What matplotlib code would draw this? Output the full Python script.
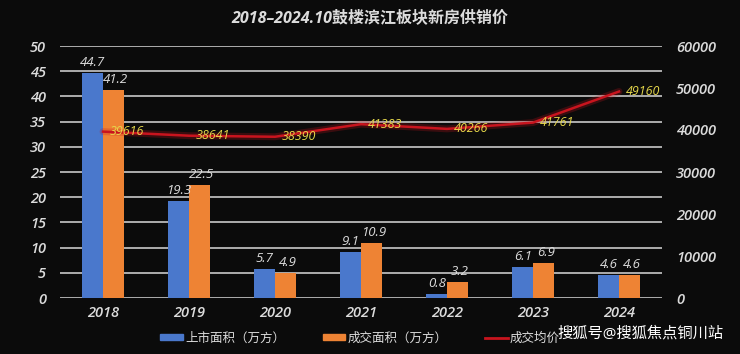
import matplotlib
matplotlib.use("Agg")
import matplotlib.pyplot as plt
import numpy as np
from matplotlib.patches import Patch
from matplotlib.lines import Line2D

plt.rcParams['font.family'] = ['Open Sans', 'Noto Sans CJK SC', 'DejaVu Sans']

years = ['2018', '2019', '2020', '2021', '2022', '2023', '2024']
listed_area = [44.7, 19.3, 5.7, 9.1, 0.8, 6.1, 4.6]
sold_area = [41.2, 22.5, 4.9, 10.9, 3.2, 6.9, 4.6]
avg_price = [39616, 38641, 38390, 41383, 40266, 41761, 49160]
left_ticks = list(range(0, 51, 5))
right_ticks = list(range(0, 60001, 10000))

title = '2018–2024.10鼓楼滨江板块新房供销价'
legend_labels = ['上市面积（万方）', '成交面积（万方）', '成交均价']
watermark = '搜狐号@搜狐焦点铜川站'

BG = '#0b0b0b'
BLUE = '#4a78cc'
ORANGE = '#ee8334'
RED = '#c8141e'
TXT = '#dcdcdc'
YEL = '#e6d84a'

fig = plt.figure(figsize=(7.4, 3.54), dpi=100, facecolor=BG)
ax = fig.add_axes([60/740, 1-298/354, 602/740, 252/354])
ax.set_facecolor(BG)
ax2 = ax.twinx()

x = np.arange(len(years))
w = 0.24
ax.bar(x - w/2, listed_area, w, color=BLUE, zorder=3)
ax.bar(x + w/2, sold_area, w, color=ORANGE, zorder=3)

for xi, v in zip(x, listed_area):
    ax.text(xi - w/2, v + 0.8, f'{v}', ha='center', va='bottom', color=TXT,
            fontsize=9.5, fontstyle='italic', zorder=5)
for xi, v in zip(x, sold_area):
    ax.text(xi + w/2 + 0.03, v + 0.8, f'{v}', ha='center', va='bottom', color=TXT,
            fontsize=9.5, fontstyle='italic', zorder=5)

ax.set_xlim(-0.5, len(years) - 0.5)
ax.set_ylim(0, 50)
ax.set_yticks(left_ticks)
ax.set_xticks(x)
ax.set_xticklabels(years)
ax.grid(axis='y', color='#c8c8c8', lw=1.2, zorder=0)
ax.set_axisbelow(True)

ax2.set_ylim(0, 60000)
ax2.set_yticks(right_ticks)

# price line with glow
ax2.plot(x, avg_price, color=RED, lw=5, alpha=0.25, zorder=4, solid_capstyle='round')
ax2.plot(x, avg_price, color=RED, lw=1.8, zorder=5)
for xi, v in zip(x, avg_price):
    ax2.annotate(f'{v}', (xi, v), xytext=(17, 0), textcoords='offset points',
                 ha='center', va='center', color=YEL, fontsize=9,
                 fontstyle='italic', zorder=6)

for a in (ax, ax2):
    for s in a.spines.values():
        s.set_visible(False)
    a.tick_params(length=0, colors=TXT, labelsize=10.5)
    for lab in a.get_yticklabels() + a.get_xticklabels():
        lab.set_fontstyle('italic')
        lab.set_fontweight('semibold')
ax.tick_params(axis='y', pad=10)
ax2.tick_params(axis='y', pad=10)
ax.tick_params(axis='x', pad=6)

fig.text(370/740, 1-18/354, title, ha='center', va='center', color=TXT,
         fontsize=11.5, fontweight='bold', fontstyle='italic')

handles = [Patch(color=BLUE), Patch(color=ORANGE), Line2D([], [], color=RED, lw=2)]
leg = fig.legend(handles, legend_labels, loc='center', bbox_to_anchor=(360/740, 1-338/354),
                 ncol=3, frameon=False, fontsize=9, handlelength=1.8, handleheight=0.4,
                 columnspacing=3.0, handletextpad=0.2)
for t in leg.get_texts():
    t.set_color(TXT)
    t.set_fontstyle('italic')

fig.text(640/740, 1-334/354, watermark, ha='center', va='center', color='white',
         fontsize=11)

fig.savefig('out.png', dpi=100, facecolor=BG)
